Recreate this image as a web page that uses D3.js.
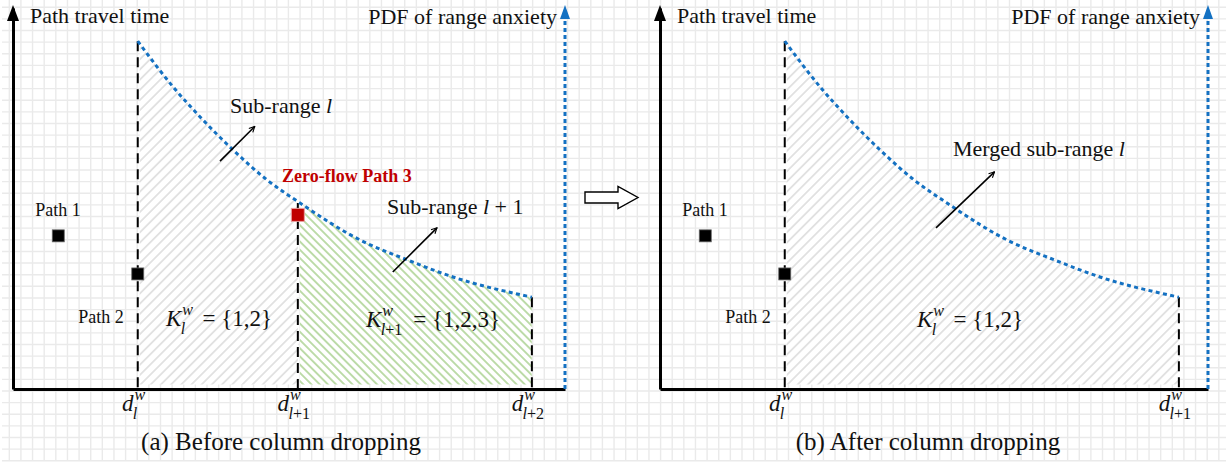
<!DOCTYPE html>
<html>
<head>
<meta charset="utf-8">
<script src="https://cdn.jsdelivr.net/npm/d3@7/dist/d3.min.js"></script>
<style>
  body { margin: 0; background: #fff; }
  svg { display: block; }
</style>
</head>
<body>
<svg id="chart" width="1226" height="465"></svg>
<script>
// ---- data (distance / pdf in arbitrary 0..100 units) ----
const rangeBreaks = [22.6, 51.6, 94.0];      // d_l, d_{l+1}, d_{l+2}
const rangeSubs = ['l', 'l+1', 'l+2'];
const mergedBreaks = [22.6, 94.0];           // after dropping column
const mergedSubs = ['l', 'l+1'];

const pdfDist = [22.6, 29.0, 33.9, 39.9, 46.0, 52.0, 62.9, 71.4, 79.7, 94.0];
const pdfValue = [91.3, 79.3, 71.4, 62.7, 54.9, 48.8, 39.1, 33.9, 29.4, 24.1];

const pathNames = ['Path 1', 'Path 2', 'Zero-flow Path 3'];
const pathDist = [8.2, 22.6, 51.6];
const pathTime = [40.2, 30.2, 45.7];

const panelTitles = ['(a) Before column dropping', '(b) After column dropping'];
const yTitle = 'Path travel time';
const y2Title = 'PDF of range anxiety';

// ---- setup ----
const W = 1226, H = 465;
const serif = '"Liberation Serif", "Times New Roman", serif';
const mathFont = '"Liberation Serif", "DejaVu Serif", serif';
const blue = '#1471c2';
const svg = d3.select('#chart');

// background grid paper
const gridStep = 11.63;
const grid = svg.append('g').attr('stroke', '#eaeaea').attr('stroke-width', 1.4);
grid.selectAll('.gv')
  .data(d3.range(9.3, W, gridStep))
  .join('line')
  .attr('class', 'gv')
  .attr('x1', d => d).attr('x2', d => d)
  .attr('y1', 0).attr('y2', 460);
grid.selectAll('.gh')
  .data(d3.range(7.2, 461, gridStep))
  .join('line')
  .attr('class', 'gh')
  .attr('x1', 2).attr('x2', W)
  .attr('y1', d => d).attr('y2', d => d);

const defs = svg.append('defs');

function hatch(id, gap, angle, color, width) {
  const p = defs.append('pattern')
    .attr('id', id)
    .attr('patternUnits', 'userSpaceOnUse')
    .attr('width', gap).attr('height', gap)
    .attr('patternTransform', `rotate(${angle})`);
  p.append('line')
    .attr('x1', gap / 2).attr('x2', gap / 2)
    .attr('y1', 0).attr('y2', gap)
    .attr('stroke', color).attr('stroke-width', width);
}
hatch('hatchGrey', 7.2, 45, '#d6d6d6', 1.3);
hatch('hatchGreen', 5.8, -45, '#a8d08d', 1.5);

defs.append('marker')
  .attr('id', 'openArrow')
  .attr('viewBox', '0 0 10 10')
  .attr('refX', 9).attr('refY', 5)
  .attr('markerWidth', 7).attr('markerHeight', 7)
  .attr('markerUnits', 'userSpaceOnUse')
  .attr('orient', 'auto')
  .append('path')
  .attr('d', 'M1,1 L9,5 L1,9')
  .attr('fill', 'none')
  .attr('stroke', '#000')
  .attr('stroke-width', 1.6);

// x: 552px per 100 units, y: 381px per 100 units
const x = d3.scaleLinear().domain([0, 100]).range([0, 552]);
const y = d3.scaleLinear().domain([0, 100]).range([381, 0]);

const curveData = d3.zip(pdfDist, pdfValue);
const area = d3.area()
  .curve(d3.curveMonotoneX)
  .x(d => x(d[0]))
  .y0(y(1.2))
  .y1(d => y(d[1]));
const line = d3.line()
  .curve(d3.curveMonotoneX)
  .x(d => x(d[0]))
  .y(d => y(d[1]));

function pdfAt(dist) {
  const i = d3.minIndex(pdfDist, v => Math.abs(v - dist));
  return pdfValue[i];
}

// italic base letter with stacked sub/superscript, then optional tail
function scripted(parent, base, sub, sup, tail, size) {
  const g = parent.append('g');
  const t = g.append('text')
    .attr('font-family', mathFont)
    .attr('font-size', size)
    .attr('fill', '#111');
  const b = t.append('tspan').attr('x', 0).attr('y', 0)
    .attr('font-style', 'italic').text(base);
  const w = b.node().getComputedTextLength();
  const small = size * 0.7;
  const sp = t.append('tspan').attr('x', w + 1).attr('y', -size * 0.48)
    .attr('font-size', small).attr('font-style', 'italic').text(sup);
  const sb = t.append('tspan').attr('x', w - size * 0.03).attr('y', size * 0.34)
    .attr('font-size', small);
  sb.append('tspan').attr('font-style', 'italic').text(sub[0]);
  if (sub.length > 1) sb.append('tspan').text(sub.slice(1));
  const sw = Math.max(sp.node().getComputedTextLength(), sb.node().getComputedTextLength());
  if (tail) {
    t.append('tspan').attr('x', w + sw + size * 0.45).attr('y', 0).text(tail);
  }
  return g;
}

function subRangeText(parent, px, py, before, after) {
  const t = parent.append('text')
    .attr('x', px).attr('y', py)
    .attr('font-family', serif)
    .attr('font-size', 22)
    .attr('fill', '#111');
  t.append('tspan').text(before);
  t.append('tspan').attr('font-family', mathFont).attr('font-style', 'italic').text('l');
  if (after) t.append('tspan').text(after);
}

function drawPanel(ox, width, breaks, subs, hatches, title) {
  const g = svg.append('g').attr('transform', `translate(${ox},8)`);
  const id = 'p' + ox;

  // hatched sub-ranges
  hatches.forEach((h, i) => {
    const cid = `${id}clip${i}`;
    defs.append('clipPath').attr('id', cid)
      .append('rect')
      .attr('x', x(breaks[h.from]) + 2)
      .attr('width', x(breaks[h.to]) - x(breaks[h.from]) - 2)
      .attr('y', 0).attr('height', y(0));
    const data = curveData.filter(d => d[0] <= breaks[breaks.length - 1] + 0.01);
    g.append('path').datum(data)
      .attr('d', area).attr('fill', '#fff')
      .attr('clip-path', `url(#${cid})`);
    g.append('path').datum(data)
      .attr('d', area).attr('fill', `url(#${h.pattern})`)
      .attr('clip-path', `url(#${cid})`);
  });

  // dashed break lines
  g.selectAll('.brk')
    .data(breaks)
    .join('line')
    .attr('class', 'brk')
    .attr('x1', d => x(d)).attr('x2', d => x(d))
    .attr('y1', d => y(pdfAt(d)))
    .attr('y2', y(0))
    .attr('stroke', '#000')
    .attr('stroke-width', 2)
    .attr('stroke-dasharray', '10,6');

  // range anxiety pdf
  g.append('path')
    .datum(curveData)
    .attr('d', line)
    .attr('fill', 'none')
    .attr('stroke', blue)
    .attr('stroke-width', 3)
    .attr('stroke-dasharray', '4,3.4');

  // axes
  const xs = x.copy().domain([0, x.invert(width)]).range([0, width]);
  const gx = g.append('g')
    .attr('transform', `translate(0,${y(0)})`)
    .call(d3.axisBottom(xs).tickValues([]).tickSizeOuter(0));
  gx.select('.domain').attr('stroke', '#000').attr('stroke-width', 3);

  const gy = g.append('g')
    .call(d3.axisLeft(y).tickValues([]).tickSizeOuter(0));
  gy.select('.domain').attr('stroke', '#000').attr('stroke-width', 3);
  g.append('path')
    .attr('d', 'M0,-3 L6,13 L-6,13 Z')
    .attr('fill', '#000');

  // secondary (pdf) axis
  g.append('line')
    .attr('x1', width).attr('x2', width)
    .attr('y1', y(0)).attr('y2', 12)
    .attr('stroke', blue)
    .attr('stroke-width', 3)
    .attr('stroke-dasharray', '4,3');
  g.append('path')
    .attr('d', `M${width},-3 L${width + 5},11 L${width - 5},11 Z`)
    .attr('fill', blue);

  // axis titles
  g.append('text')
    .attr('x', 17).attr('y', 15)
    .attr('font-family', serif).attr('font-size', 22).attr('fill', '#111')
    .text(yTitle);
  g.append('text')
    .attr('x', width - 8).attr('y', 16)
    .attr('text-anchor', 'end')
    .attr('font-family', serif).attr('font-size', 22).attr('fill', '#111')
    .text(y2Title);

  // break labels d^w_l ...
  breaks.forEach((b, i) => {
    const lab = scripted(g, 'd', subs[i], 'w', null, 23);
    const bb = lab.node().getBBox();
    lab.attr('transform', `translate(${x(b) - 4 - bb.width / 2},${y(0) + 22})`);
  });

  // caption
  g.append('text')
    .attr('x', 268).attr('y', 442)
    .attr('text-anchor', 'middle')
    .attr('font-family', serif).attr('font-size', 25).attr('fill', '#111')
    .text(title);

  // paths
  g.append('text')
    .attr('x', x(pathDist[0]) - 23).attr('y', y(pathTime[0]) - 20)
    .attr('font-family', serif).attr('font-size', 18).attr('fill', '#111')
    .text(pathNames[0]);
  g.append('text')
    .attr('x', x(pathDist[1]) - 14).attr('y', y(pathTime[1]) + 49)
    .attr('text-anchor', 'end')
    .attr('font-family', serif).attr('font-size', 18).attr('fill', '#111')
    .text(pathNames[1]);
  [0, 1].forEach(i => {
    g.append('rect')
      .attr('x', x(pathDist[i]) - 6).attr('y', y(pathTime[i]) - 6)
      .attr('width', 12).attr('height', 12)
      .attr('fill', '#000')
      .attr('stroke', '#666').attr('stroke-width', 0.8);
  });
  return g;
}

function annotate(g, from, to) {
  g.append('line')
    .attr('x1', x(from[0])).attr('y1', y(from[1]))
    .attr('x2', x(to[0])).attr('y2', y(to[1]))
    .attr('stroke', '#000')
    .attr('stroke-width', 1.6)
    .attr('marker-end', 'url(#openArrow)');
}

// ---- panel (a) ----
const ga = drawPanel(13, 552, rangeBreaks, rangeSubs, [
  { from: 0, to: 1, pattern: 'hatchGrey' },
  { from: 1, to: 2, pattern: 'hatchGreen' }
], panelTitles[0]);

ga.append('rect')
  .attr('x', x(pathDist[2]) - 6.5).attr('y', y(pathTime[2]) - 6.5)
  .attr('width', 13).attr('height', 13)
  .attr('fill', '#c00000')
  .attr('stroke', '#e8a0a0').attr('stroke-width', 1);
ga.append('text')
  .attr('x', 269).attr('y', 174)
  .attr('font-family', serif).attr('font-weight', 'bold')
  .attr('font-size', 18).attr('fill', '#c00000')
  .text(pathNames[2]);

subRangeText(ga, 217, 105, 'Sub-range ', null);
subRangeText(ga, 374, 206, 'Sub-range ', ' + 1');
annotate(ga, [37.5, 59.8], [43.8, 68.9]);
annotate(ga, [68.8, 30.7], [76.8, 42.3]);

scripted(ga, 'K', 'l', 'w', '= {1,2}', 23)
  .attr('transform', 'translate(153,318)');
scripted(ga, 'K', 'l+1', 'w', '= {1,2,3}', 23)
  .attr('transform', 'translate(353,319)');

// ---- panel (b) ----
const gb = drawPanel(660, 548, mergedBreaks, mergedSubs, [
  { from: 0, to: 1, pattern: 'hatchGrey' }
], panelTitles[1]);

subRangeText(gb, 293, 148, 'Merged sub-range ', null);
annotate(gb, [50.0, 42.3], [60.6, 57.0]);
scripted(gb, 'K', 'l', 'w', '= {1,2}', 23)
  .attr('transform', 'translate(257,319)');

// ---- transition arrow ----
svg.append('path')
  .attr('d', 'M585,192 H618 V186.5 L638,197.5 L618,208.5 V203 H585 Z')
  .attr('fill', '#fff')
  .attr('stroke', '#000')
  .attr('stroke-width', 1.4);
</script>
</body>
</html>
